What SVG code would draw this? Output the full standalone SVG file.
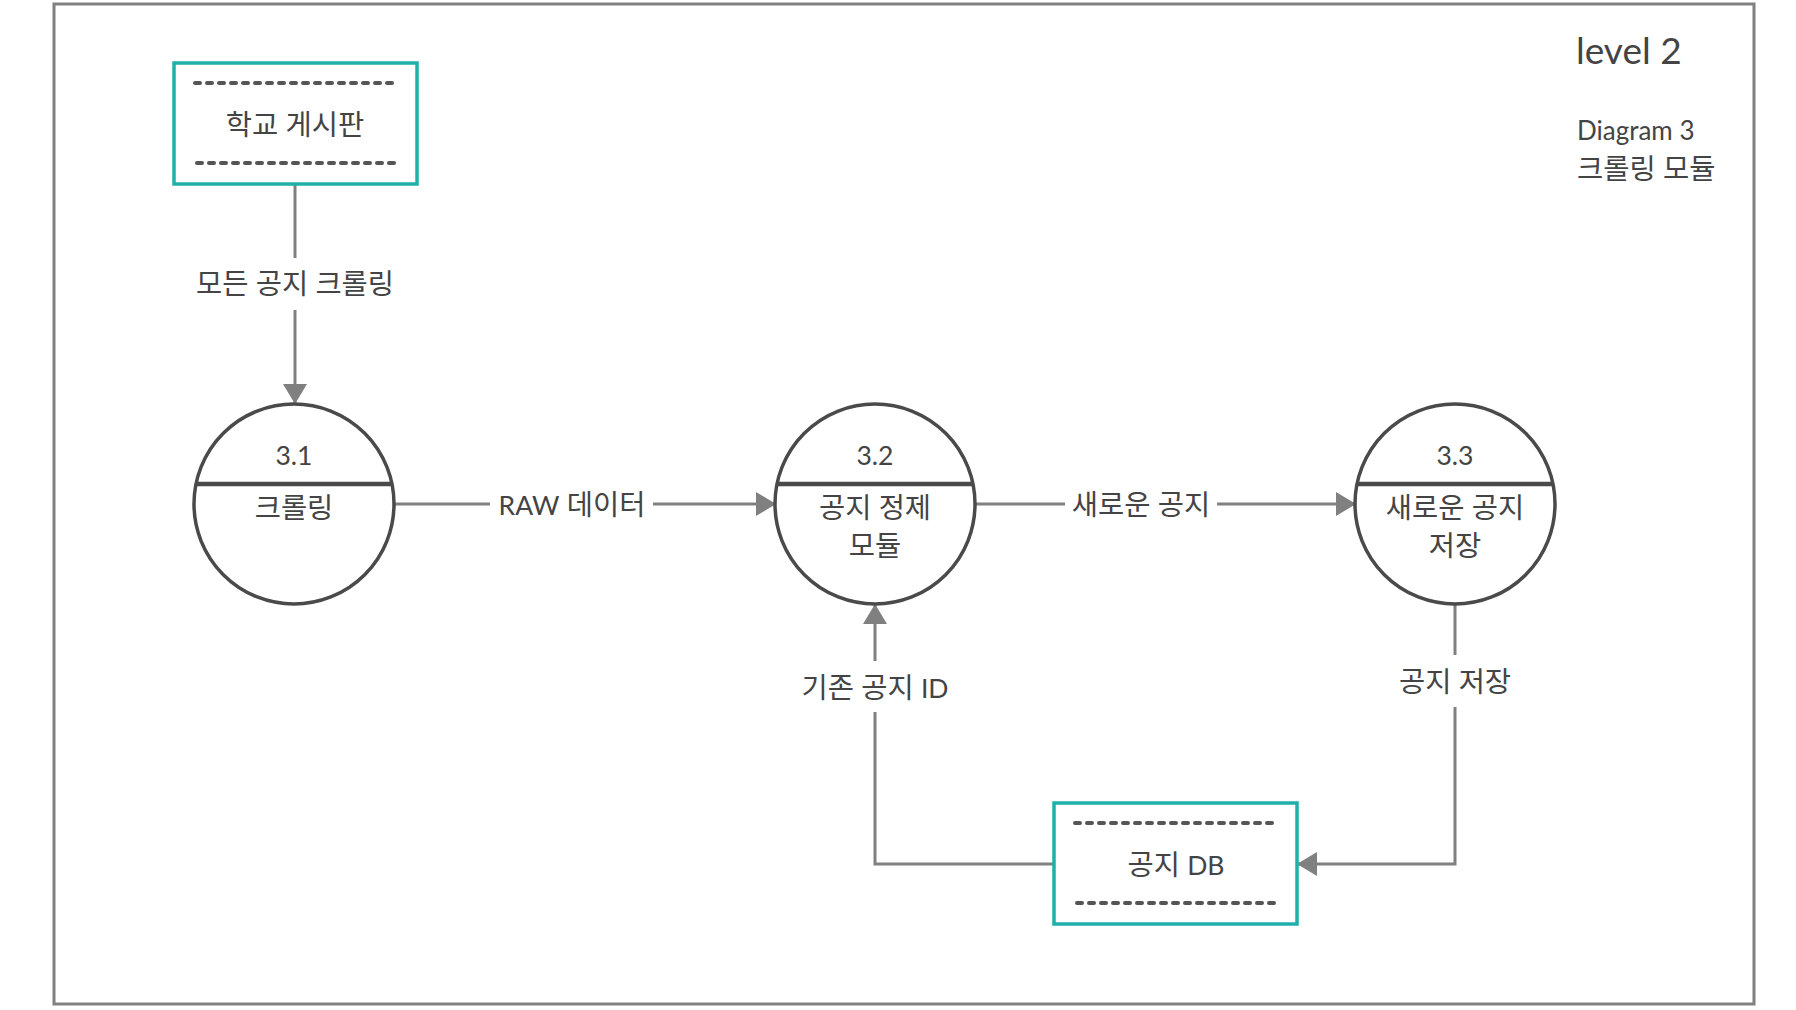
<svg xmlns="http://www.w3.org/2000/svg" width="1796" height="1010" viewBox="0 0 1796 1010">
<defs>
<style>
.frame{fill:none;stroke:#808080;stroke-width:3}
.store{fill:#fff;stroke:#20b0aa;stroke-width:3.5}
.dash{stroke:#555;stroke-width:4;stroke-dasharray:5 7;stroke-linecap:round}
.proc{fill:#fff;stroke:#4a4a4a;stroke-width:3.5}
.div{stroke:#4a4a4a;stroke-width:4.5}
.conn{fill:none;stroke:#808080;stroke-width:3}
.lbg{fill:#fff}
text{font-family:Lato,"Noto Sans CJK KR",sans-serif;fill:#444;font-size:28.5px;text-anchor:middle}
.lat{font-size:26.5px}
.title{text-anchor:start}
.big{font-size:37px}
</style>
<marker id="arr" markerUnits="userSpaceOnUse" markerWidth="20" markerHeight="24" refX="19" refY="12" orient="auto">
<path d="M0,0 L20,12 L0,24 z" fill="#808080"/>
</marker>
</defs>
<rect width="1796" height="1010" fill="#fff"/>
<rect class="frame" x="54" y="4" width="1700" height="1000"/>
<g id="title">
<text class="title big" x="1576" y="64">level 2</text>
<text class="title lat" x="1577" y="140" style="font-size:26px">Diagram 3</text>
<text class="title" x="1577" y="179">크롤링 모듈</text>
</g>
<g id="connectors">
<path class="conn" d="M295,170 V403" marker-end="url(#arr)"/>
<path class="conn" d="M394,504 H775" marker-end="url(#arr)"/>
<path class="conn" d="M975,504 H1355" marker-end="url(#arr)"/>
<path class="conn" d="M1455,604 V864 H1298" marker-end="url(#arr)"/>
<path class="conn" d="M1054,864 H875 V605" marker-end="url(#arr)"/>
<rect class="lbg" x="185" y="258" width="220" height="52"/>
<text x="295" y="294">모든 공지 크롤링</text>
<rect class="lbg" x="490" y="480" width="163" height="50"/>
<text x="572" y="515"><tspan class="lat">RAW</tspan> 데이터</text>
<rect class="lbg" x="1065" y="480" width="152" height="50"/>
<text x="1141" y="515">새로운 공지</text>
<rect class="lbg" x="1385" y="655" width="140" height="52"/>
<text x="1455" y="692">공지 저장</text>
<rect class="lbg" x="795" y="661" width="160" height="51"/>
<text x="875" y="698">기존 공지 <tspan class="lat">ID</tspan></text>
</g>
<g id="store-board">
<rect class="store" x="174" y="63" width="243" height="121"/>
<line class="dash" x1="195" y1="83" x2="395" y2="83"/>
<line class="dash" x1="197" y1="163" x2="397" y2="163"/>
<text x="295" y="135">학교 게시판</text>
</g>
<g id="p31">
<circle class="proc" cx="294" cy="504" r="100"/>
<line class="div" x1="196" y1="484" x2="392" y2="484"/>
<text class="lat" x="294" y="465">3.1</text>
<text x="294" y="518">크롤링</text>
</g>
<g id="p32">
<circle class="proc" cx="875" cy="504" r="100"/>
<line class="div" x1="777" y1="484" x2="973" y2="484"/>
<text class="lat" x="875" y="465">3.2</text>
<text x="875" y="518">공지 정제</text>
<text x="875" y="556">모듈</text>
</g>
<g id="p33">
<circle class="proc" cx="1455" cy="504" r="100"/>
<line class="div" x1="1357" y1="484" x2="1553" y2="484"/>
<text class="lat" x="1455" y="465">3.3</text>
<text x="1455" y="518">새로운 공지</text>
<text x="1455" y="556">저장</text>
</g>
<g id="store-db">
<rect class="store" x="1054" y="803" width="243" height="121"/>
<line class="dash" x1="1075" y1="823" x2="1275" y2="823"/>
<line class="dash" x1="1077" y1="903" x2="1277" y2="903"/>
<text x="1176" y="875">공지 <tspan class="lat">DB</tspan></text>
</g>
</svg>
